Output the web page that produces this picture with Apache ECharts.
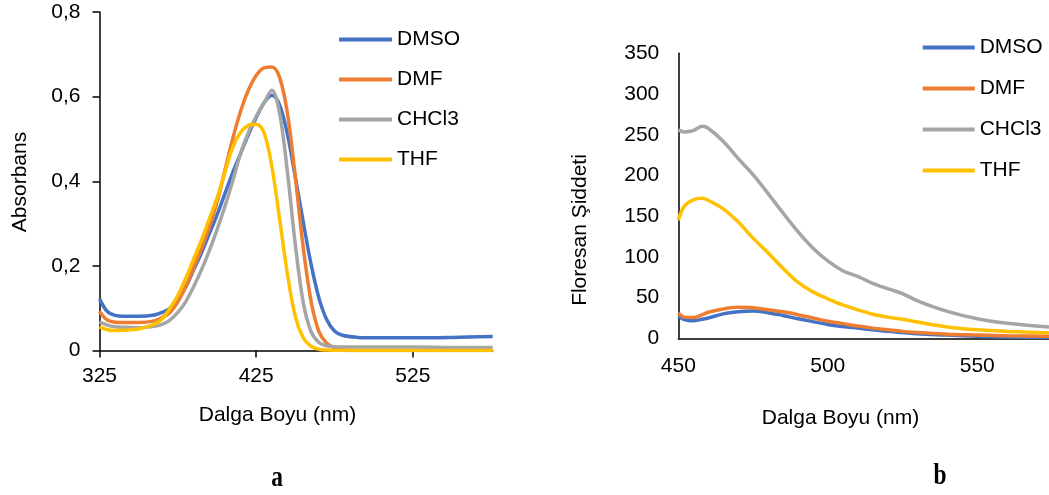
<!DOCTYPE html>
<html>
<head>
<meta charset="utf-8">
<script src="https://cdn.jsdelivr.net/npm/echarts@6/dist/echarts.min.js"></script>
<style>
html,body{margin:0;padding:0;background:#fff;}
#c{width:1049px;height:495px;}
</style>
</head>
<body>
<div id="c"></div>
<script>
// ---- Data ----
const seriesNames = ['DMSO', 'DMF', 'CHCl3', 'THF'];
const seriesColors = ['#4472C4', '#ED7D31', '#A5A5A5', '#FFC000'];

// (a) absorption spectra
const absWave = [325,330,335,340,350,360,365,370,375,380,385,390,395,400,405,410,415,420,425,430,435,440,445,450,455,460,465,470,475,480,490,500,525,550,576];
const dmsoAbs = [0.122,0.092,0.083,0.081,0.081,0.084,0.090,0.100,0.125,0.150,0.190,0.230,0.275,0.320,0.370,0.420,0.465,0.510,0.550,0.585,0.603,0.580,0.510,0.410,0.305,0.205,0.125,0.073,0.046,0.036,0.031,0.030,0.030,0.031,0.033];
const dmfAbs = [0.093,0.072,0.067,0.066,0.066,0.070,0.078,0.090,0.115,0.150,0.195,0.240,0.290,0.350,0.425,0.500,0.565,0.615,0.650,0.668,0.670,0.645,0.560,0.410,0.245,0.118,0.045,0.017,0.006,0.002,0,0,0,0,0];
const chcl3Abs = [0.068,0.060,0.056,0.055,0.054,0.057,0.062,0.072,0.090,0.115,0.150,0.190,0.235,0.285,0.340,0.400,0.465,0.515,0.553,0.585,0.615,0.560,0.420,0.250,0.115,0.045,0.019,0.011,0.009,0.008,0.008,0.008,0.008,0.007,0.007];
const thfAbs = [0.056,0.049,0.047,0.048,0.051,0.062,0.075,0.100,0.130,0.170,0.215,0.260,0.310,0.360,0.420,0.480,0.515,0.532,0.535,0.515,0.435,0.310,0.180,0.080,0.030,0.010,0.003,0.001,0,0,0,0,0,0,0];
const absXTicks = [325, 425, 525];

// (b) fluorescence spectra
const flWave = [450,452,455,458,460,465,470,475,480,485,490,495,500,505,510,515,520,525,530,540,550,560,574];
const dmsoFl = [27,23,21.5,23.5,25,30,32.5,33.5,31.5,28,24,20.5,17,14.5,12.5,10.5,8.5,7,5.5,4,2.5,1.5,1];
const dmfFl = [31,26,25.5,29,32,36,38,37.5,35,32.5,29,25,21,18,15,12.5,10.5,8.5,7,5,4,3,2.5];
const chcl3Fl = [256,253.5,255,260.5,258,242,221,201,178,154,131,111,95,83,76,67.5,61,55,46,33,24,18.5,14];
const thfFl = [145,162,170,172,169.5,159,143,123,105,86,69,57,48.5,41,35,29.5,26,23.5,20,14,10.5,8.5,6.5];
const flXTicks = [450, 500, 550];

// ---- Build ----
const FONT = '"Liberation Sans", Arial, sans-serif';
const absSets = [dmsoAbs, dmfAbs, chcl3Abs, thfAbs];
const flSets = [dmsoFl, dmfFl, chcl3Fl, thfFl];
const pair = (xs, ys) => xs.map((x, i) => [x, ys[i]]);

const axisLineStyle = { color: '#000', width: 1.5 };
const labelStyle = { color: '#000', fontSize: 21, fontFamily: FONT };

const series = [];
seriesNames.forEach((n, i) => {
  series.push({
    name: n, type: 'line', xAxisIndex: 0, yAxisIndex: 0,
    data: pair(absWave, absSets[i]), smooth: 0.35, symbol: 'none',
    color: seriesColors[i], lineStyle: { width: 3.5, color: seriesColors[i] }
  });
});
seriesNames.forEach((n, i) => {
  series.push({
    name: n, type: 'line', xAxisIndex: 1, yAxisIndex: 1,
    data: pair(flWave, flSets[i]), smooth: 0.35, symbol: 'none',
    color: seriesColors[i], lineStyle: { width: 3.5, color: seriesColors[i] }
  });
});

const legendBase = {
  data: seriesNames, orient: 'vertical', icon: 'rect', padding: 0,
  itemWidth: 53, itemHeight: 4,
  textStyle: { color: '#000', fontSize: 21, fontFamily: FONT, lineHeight: 21 }
};

const option = {
  animation: false,
  backgroundColor: '#fff',
  grid: [
    { left: 99.5, top: 12, width: 393.2, height: 338.5 },
    { left: 678.3, top: 53.3, width: 370.7, height: 285 }
  ],
  legend: [
    Object.assign({}, legendBase, { left: 339, top: 29, itemGap: 19 }),
    Object.assign({}, legendBase, { left: 922.7, top: 37, itemGap: 20, itemWidth: 52 })
  ],
  xAxis: [
    {
      type: 'value', gridIndex: 0, min: 325, max: 576,
      axisLine: { show: true, onZero: false, lineStyle: axisLineStyle },
      axisTick: { show: true, length: 7, lineStyle: axisLineStyle, customValues: absXTicks },
      axisLabel: Object.assign({ margin: 15, customValues: absXTicks }, labelStyle),
      splitLine: { show: false }
    },
    {
      type: 'value', gridIndex: 1, min: 450, max: 574,
      axisLine: { show: true, onZero: false, lineStyle: axisLineStyle },
      axisTick: { show: false, customValues: flXTicks },
      axisLabel: Object.assign({ margin: 17, customValues: flXTicks }, labelStyle),
      splitLine: { show: false }
    }
  ],
  yAxis: [
    {
      type: 'value', gridIndex: 0, min: 0, max: 0.8, interval: 0.2,
      axisLine: { show: true, lineStyle: axisLineStyle },
      axisTick: { show: true, length: 7, lineStyle: axisLineStyle },
      axisLabel: Object.assign({
        margin: 19,
        formatter: v => v === 0 ? '0' : v.toFixed(1).replace('.', ',')
      }, labelStyle),
      splitLine: { show: false }
    },
    {
      type: 'value', gridIndex: 1, min: 0, max: 350, interval: 50,
      axisLine: { show: true, lineStyle: axisLineStyle },
      axisTick: { show: false },
      axisLabel: Object.assign({ margin: 19 }, labelStyle),
      splitLine: { show: false }
    }
  ],
  graphic: [
    { type: 'text', x: 20, y: 182, rotation: Math.PI / 2,
      style: { text: 'Absorbans', fill: '#000', font: '21px ' + FONT, align: 'center', verticalAlign: 'middle' } },
    { type: 'text', x: 277.5, y: 415,
      style: { text: 'Dalga Boyu (nm)', fill: '#000', font: '21px ' + FONT, align: 'center', verticalAlign: 'middle' } },
    { type: 'text', x: 580, y: 230, rotation: Math.PI / 2,
      style: { text: 'Floresan Şiddeti', fill: '#000', font: '21px ' + FONT, align: 'center', verticalAlign: 'middle' } },
    { type: 'text', x: 840.5, y: 418,
      style: { text: 'Dalga Boyu (nm)', fill: '#000', font: '21px ' + FONT, align: 'center', verticalAlign: 'middle' } },
    { type: 'text', x: 277, y: 478, scaleX: 0.78,
      style: { text: 'a', fill: '#000', font: 'bold 30px "Liberation Serif", "Times New Roman", serif', align: 'center', verticalAlign: 'middle' } },
    { type: 'text', x: 940, y: 476, scaleX: 0.78,
      style: { text: 'b', fill: '#000', font: 'bold 30px "Liberation Serif", "Times New Roman", serif', align: 'center', verticalAlign: 'middle' } }
  ],
  series: series
};

const chart = echarts.init(document.getElementById('c'), null, { renderer: 'canvas' });
chart.setOption(option);
</script>
</body>
</html>
